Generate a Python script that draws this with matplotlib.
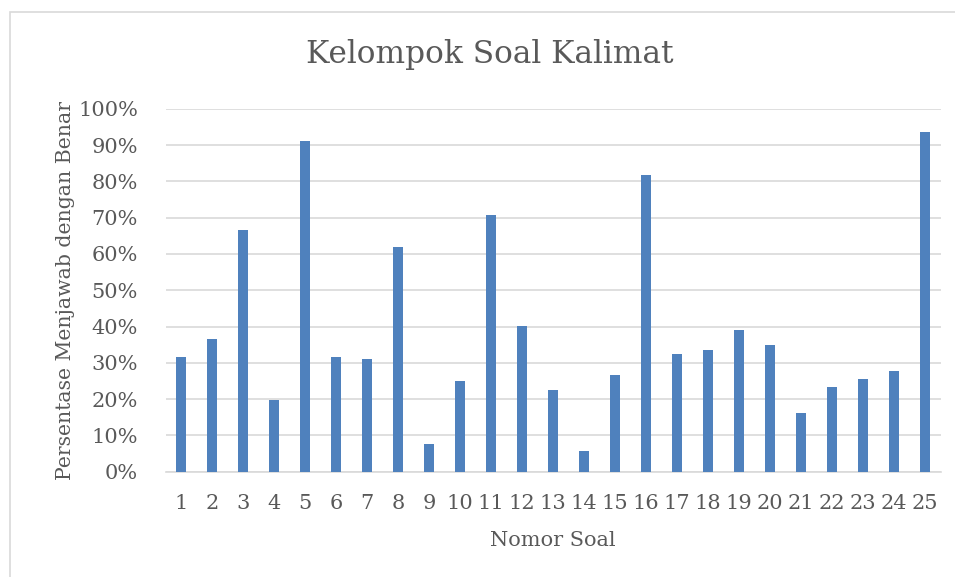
import matplotlib.pyplot as plt
from matplotlib.patches import Rectangle
from matplotlib.ticker import PercentFormatter

# data
nomor = [str(i) for i in range(1, 26)]
persen = [0.315, 0.366, 0.666, 0.198, 0.911, 0.316, 0.310, 0.619, 0.077, 0.250,
          0.708, 0.401, 0.224, 0.058, 0.266, 0.818, 0.325, 0.335, 0.390, 0.348,
          0.161, 0.234, 0.256, 0.277, 0.937]

abu = '#595959'
plt.rcParams['font.family'] = ['DejaVu Serif']

fig = plt.figure(figsize=(9.55, 5.77), dpi=100)
# bingkai grafik
fig.patches.append(Rectangle((10 / 955, -0.1), 1.0, 1 - 12 / 577 + 0.1,
                             transform=fig.transFigure, fill=False,
                             edgecolor='#d9d9d9', linewidth=1.2))

ax = fig.add_axes([0.1735, 0.1825, 0.8115, 0.6291])
ax.bar(range(len(nomor)), persen, width=0.32, color='#4f81bd', zorder=3)

ax.set_ylim(0, 1)
ax.set_xlim(-0.5, len(nomor) - 0.5)
ax.set_yticks([i / 10 for i in range(11)])
ax.yaxis.set_major_formatter(PercentFormatter(1.0, decimals=0))
ax.set_xticks(range(len(nomor)))
ax.set_xticklabels(nomor)
ax.tick_params(length=0, labelsize=15, colors=abu)
ax.tick_params(axis='x', pad=16)
ax.tick_params(axis='y', pad=20)
ax.grid(axis='y', color='#d9d9d9', linewidth=1.2, zorder=0)
for s in ['top', 'right', 'left']:
    ax.spines[s].set_visible(False)
ax.spines['bottom'].set_color('#d9d9d9')
ax.spines['bottom'].set_linewidth(1.2)

ax.set_xlabel('Nomor Soal', fontsize=15, color=abu, labelpad=13)
ax.set_ylabel('Persentase Menjawab dengan Benar', fontsize=14.7, color=abu, labelpad=2)
fig.text(490 / 955, 1 - 55 / 577, 'Kelompok Soal Kalimat', fontsize=22.5,
         color=abu, ha='center', va='center')

fig.savefig('out.png', dpi=100)
